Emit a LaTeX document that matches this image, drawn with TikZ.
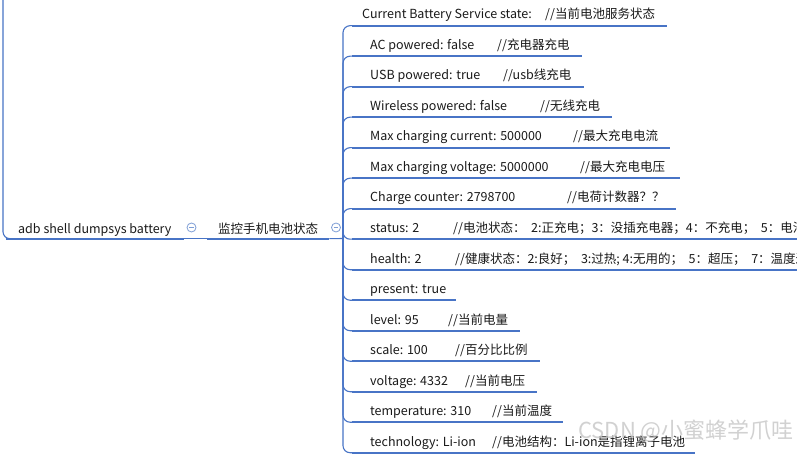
\documentclass[tikz,border=0pt]{standalone}
\usepackage{fontspec}
\setmainfont{Noto Sans CJK SC}
\usetikzlibrary{positioning}

\definecolor{mapblue}{HTML}{4874C6}
\definecolor{foldblue}{HTML}{7E9ED6}
\definecolor{ink}{HTML}{1A1A1A}

\tikzset{
  twig/.style={draw=mapblue, line width=1.1pt, rounded corners=7pt},
  uline/.style={draw=mapblue, line width=2.3pt},
  topic/.style={anchor=base west, inner ysep=0pt, text depth=4.5pt, text=ink,
    font=\fontsize{12.5}{14}\selectfont},
  leaf/.style={anchor=base west, inner sep=0pt, text depth=6.5pt, text=ink,
    font=\fontsize{12.5}{14}\selectfont},
  fold/.style={circle, draw=foldblue, fill=white, line width=.8pt, minimum size=9pt, inner sep=0pt,
    path picture={\draw[foldblue, line width=.8pt]
      ([xshift=-2.3pt]path picture bounding box.center) -- ([xshift=2.3pt]path picture bounding box.center);}},
  wmark/.style={text=gray!45, opacity=.8, font=\fontsize{22}{24}\selectfont}
}

\begin{document}
\begin{tikzpicture}[x=1pt, y=-1pt]
\useasboundingbox (0,0) rectangle (797,454);
\fill[white] (0,0) rectangle (797,454);

% main topics
\node[topic, inner xsep=12.5pt] (cmd) at (5.5,234) {adb shell dumpsys battery};
\node[topic, inner xsep=11pt] (mon) at (207,234) {监控手机电池状态};
\node[fold] (f1) at (191.5,227.5) {};
\node[fold] (f2) at (336,227.5) {};
\coordinate (hub) at (343,238.5);

% leaves
\node[leaf] (cur) at (362,19) {\makebox[183pt][l]{Current Battery Service state:}//当前电池服务状态};
\node[leaf] (ac) at (370,49.5) {\makebox[127pt][l]{AC powered: false}//充电器充电};
\node[leaf] (usb) at (370,80) {\makebox[133pt][l]{USB powered: true}//usb线充电};
\node[leaf] (wl) at (370,110.5) {\makebox[170pt][l]{Wireless powered: false}//无线充电};
\node[leaf] (maxi) at (370,141) {\makebox[203pt][l]{Max charging current: 500000}//最大充电电流};
\node[leaf] (maxv) at (370,171.5) {\makebox[210pt][l]{Max charging voltage: 5000000}//最大充电电压};
\node[leaf] (cc) at (370,202) {\makebox[197pt][l]{Charge counter: 2798700}//电荷计数器？？};
\node[leaf] (st) at (370,232.5) {\makebox[83pt][l]{status: 2}//电池状态：\ \ 2:正充电；3：没插充电器；4：不充电；\ \ 5：电池};
\node[leaf] (hl) at (370,263) {\makebox[85pt][l]{health: 2}//健康状态：2:良好；\ \ 3:过热; 4:无用的；\ \ 5：超压；\ \ 7：温度过};
\node[leaf] (pr) at (370,293.5) {present: true};
\node[leaf] (lv) at (370,324) {\makebox[78pt][l]{level: 95}//当前电量};
\node[leaf] (sc) at (370,354.5) {\makebox[85pt][l]{scale: 100}//百分比比例};
\node[leaf] (vo) at (370,385) {\makebox[95pt][l]{voltage: 4332}//当前电压};
\node[leaf] (tp) at (370,415.5) {\makebox[122pt][l]{temperature: 310}//当前温度};
\node[leaf] (te) at (370,446) {\makebox[122pt][l]{technology: Li-ion}//电池结构：Li-ion是指锂离子电池};

% connectors
\draw[twig] (3,-3) |- (10,0 |- cmd.south);
\draw[uline] (cmd.south west) -- (cmd.south east);
\draw[twig] (cmd.south east) -- (mon.south west);
\draw[uline] (mon.south west) -- (mon.south east);
\draw[twig] (mon.south east) -- (hub);
\foreach \n/\x in {cur/667,ac/582,usb/584,wl/612,maxi/670,maxv/680,cc/676,st/800,hl/800,
                   pr/456,lv/520,sc/540,vo/537,tp/563,te/695}{
  \draw[twig] (hub) |- (352,0 |- \n.south);
  \draw[uline] (352,0 |- \n.south) -- (\x,0 |- \n.south);
}

\node[wmark] (wm) at (686,431) {CSDN @小蜜蜂学爪哇};
\end{tikzpicture}
\end{document}
